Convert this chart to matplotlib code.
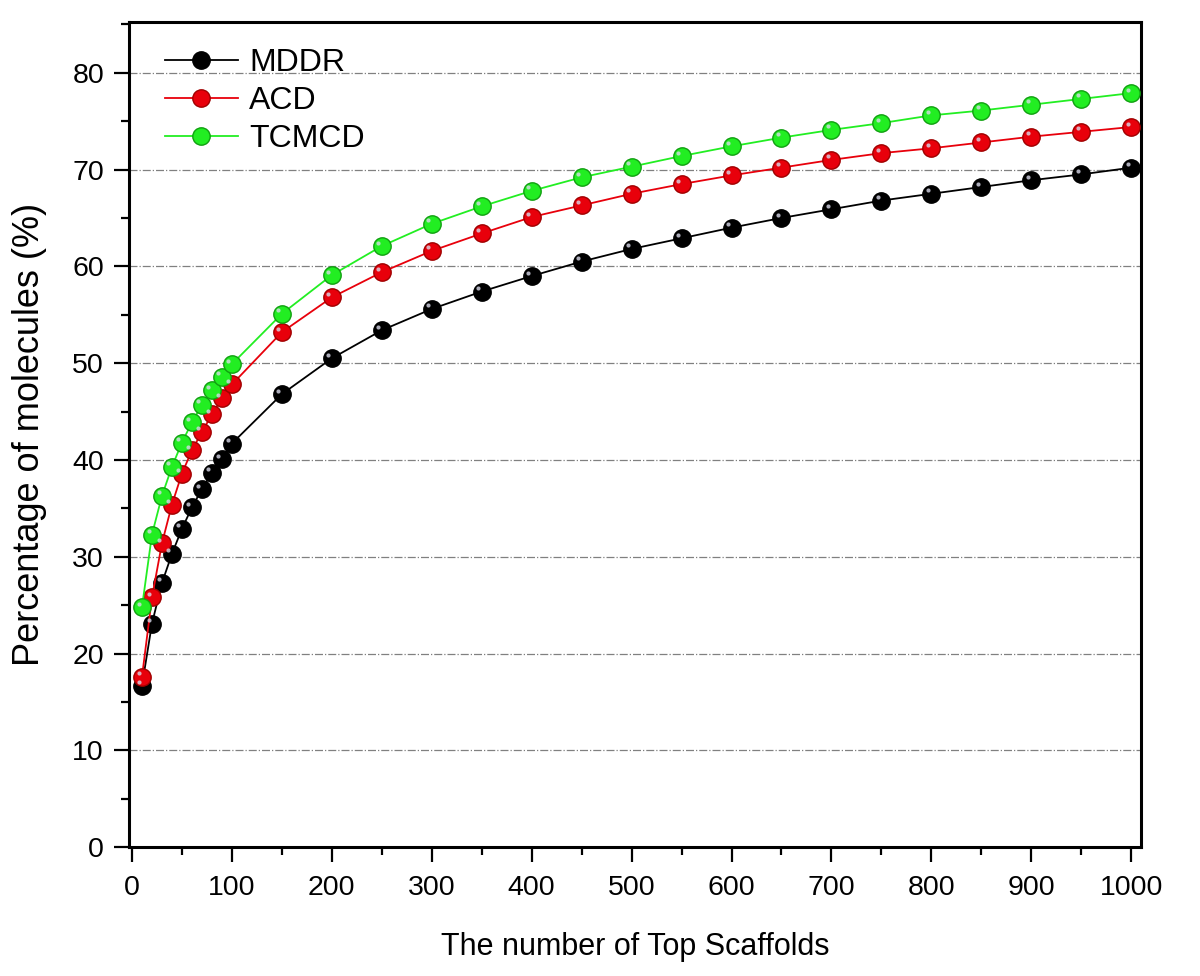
import numpy as np
import matplotlib.pyplot as plt
import matplotlib.transforms as mtransforms
from matplotlib.ticker import MultipleLocator

plt.rcParams['font.family'] = ['Liberation Sans', 'DejaVu Sans']

# number of top scaffolds
n_top = [10, 20, 30, 40, 50, 60, 70, 80, 90, 100,
         150, 200, 250, 300, 350, 400, 450, 500, 550, 600,
         650, 700, 750, 800, 850, 900, 950, 1000]

mddr = [16.7, 23.1, 27.3, 30.3, 32.9, 35.1, 37.0, 38.7, 40.1, 41.7,
        46.8, 50.5, 53.4, 55.6, 57.4, 59.0, 60.5, 61.8, 62.9, 64.0,
        65.0, 65.9, 66.8, 67.5, 68.2, 68.9, 69.5, 70.2]
acd = [17.6, 25.8, 31.4, 35.4, 38.6, 41.0, 42.9, 44.7, 46.4, 47.8,
       53.2, 56.8, 59.4, 61.6, 63.4, 65.1, 66.3, 67.5, 68.5, 69.4,
       70.2, 71.0, 71.7, 72.2, 72.8, 73.4, 73.9, 74.4]
tcmcd = [24.8, 32.3, 36.3, 39.3, 41.8, 43.9, 45.7, 47.2, 48.6, 49.9,
         55.1, 59.1, 62.1, 64.4, 66.2, 67.8, 69.2, 70.3, 71.4, 72.4,
         73.3, 74.1, 74.8, 75.6, 76.1, 76.7, 77.3, 77.9]

series = [("MDDR", mddr, "black", "#000000"),
          ("ACD", acd, "#e8000b", "#a00000"),
          ("TCMCD", tcmcd, "#22ee22", "#10a010")]

fig = plt.figure(figsize=(12, 9.76), dpi=100)
ax = fig.add_axes([0.1075, 0.132, 0.8435, 0.845])

# small shine on each ball
shine = mtransforms.offset_copy(ax.transData, fig=fig, x=-2.5, y=2.5, units='points')

for name, vals, col, edge in series:
    ax.plot(n_top, vals, '-', color=col, lw=1.3, marker='o', ms=12.5,
            mfc=col, mec=edge, mew=1.0, label=name, zorder=3)
    ax.plot(n_top, vals, 'o', color='#d8d8e8', ms=3, mec='none', alpha=0.8,
            transform=shine, zorder=4)

ax.set_xlim(-3, 1010)
ax.set_ylim(0, 85.2)
ax.xaxis.set_major_locator(MultipleLocator(100))
ax.xaxis.set_minor_locator(MultipleLocator(50))
ax.yaxis.set_major_locator(MultipleLocator(10))
ax.yaxis.set_minor_locator(MultipleLocator(5))
ax.tick_params(which='major', length=11, width=1.6, labelsize=20.5, direction='out')
ax.tick_params(which='minor', length=6, width=1.6, direction='out')
ax.tick_params(axis='x', pad=9)
ax.tick_params(axis='y', pad=7)

for s in ax.spines.values():
    s.set_linewidth(2.2)

ax.yaxis.grid(True, which='major', linestyle='-.', color='#808080', lw=0.9)
ax.set_axisbelow(True)

ax.set_xlabel("The number of Top Scaffolds", fontsize=22, labelpad=22)
ax.set_ylabel("Percentage of molecules (%)", fontsize=26)
ax.yaxis.set_label_coords(-0.081, 0.5)

ax.legend(loc='upper left', frameon=False, handlelength=2.3, handletextpad=0.35,
          labelspacing=0.25, borderaxespad=0.4, bbox_to_anchor=(0.01, 1.0),
          prop={'size': 23})

fig.savefig("out.png", dpi=100)
